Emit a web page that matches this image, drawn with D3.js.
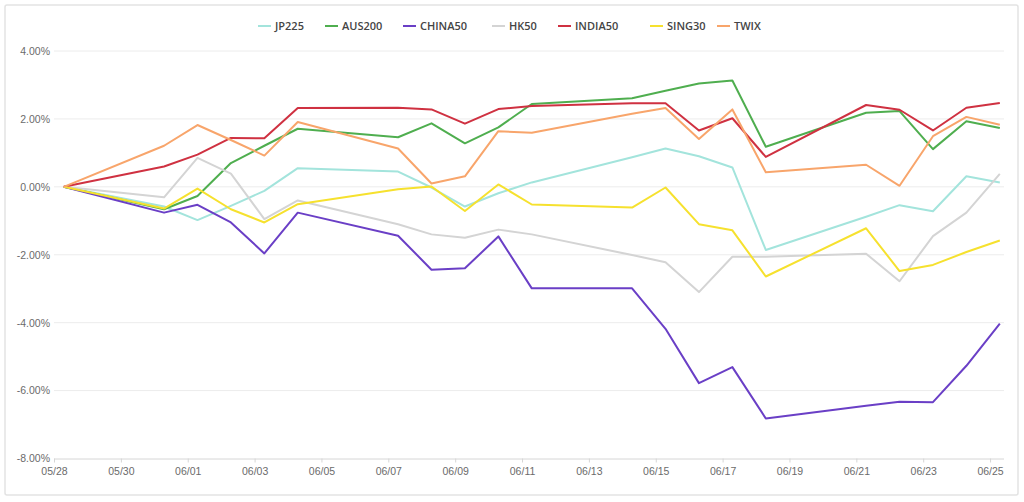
<!DOCTYPE html>
<html>
<head>
<meta charset="utf-8">
<script src="https://cdn.jsdelivr.net/npm/d3@7"></script>
<style>
  body { margin: 0; background: #fff; font-family: "Open Sans", "DejaVu Sans", sans-serif; }
  .frame { fill: none; stroke: #e3e3e3; stroke-width: 1.5; }
  .grid line { stroke: #ececec; }
  .axis text { fill: #6b6b6b; font-size: 10.5px; }
  .legend text { fill: #444; font-size: 11px; font-weight: 600; }
</style>
</head>
<body>
<div id="chart"></div>
<script>
// trading days shown on the chart
const dates = ["05/28","05/31","06/01","06/02","06/03","06/04","06/07","06/08","06/09","06/10",
               "06/11","06/14","06/15","06/16","06/17","06/18","06/21","06/22","06/23","06/24","06/25"];

// cumulative change in %, one value per date
const jp225  = [0, -0.58, -0.98, -0.56, -0.12, 0.55, 0.45, -0.02, -0.58, -0.19, 0.13, 0.87, 1.13, 0.90, 0.57, -1.86, -0.88, -0.54, -0.72, 0.31, 0.13];
const aus200 = [0, -0.66, -0.27, 0.70, 1.21, 1.71, 1.46, 1.87, 1.28, 1.75, 2.44, 2.61, 2.83, 3.04, 3.13, 1.18, 2.18, 2.23, 1.11, 1.93, 1.73];
const china50= [0, -0.76, -0.53, -1.05, -1.96, -0.76, -1.44, -2.44, -2.40, -1.46, -2.99, -2.99, -4.18, -5.78, -5.31, -6.82, -6.45, -6.33, -6.34, -5.27, -4.03];
const hk50   = [0, -0.31, 0.85, 0.39, -0.95, -0.40, -1.10, -1.40, -1.50, -1.26, -1.40, -2.01, -2.22, -3.10, -2.06, -2.06, -1.97, -2.78, -1.45, -0.76, 0.38];
const india50= [0, 0.60, 0.95, 1.44, 1.43, 2.32, 2.33, 2.28, 1.86, 2.29, 2.38, 2.46, 2.46, 1.66, 2.02, 0.88, 2.41, 2.27, 1.66, 2.33, 2.47];
const sing30 = [0, -0.64, -0.05, -0.66, -1.05, -0.51, -0.07, 0.01, -0.71, 0.07, -0.52, -0.61, -0.02, -1.10, -1.28, -2.64, -1.22, -2.48, -2.30, -1.92, -1.58];
const twix   = [0, 1.21, 1.82, 1.38, 0.92, 1.91, 1.13, 0.10, 0.31, 1.64, 1.59, 2.15, 2.32, 1.41, 2.28, 0.43, 0.65, 0.03, 1.49, 2.06, 1.83];

const seriesNames  = ["JP225", "AUS200", "CHINA50", "HK50", "INDIA50", "SING30", "TWIX"];
const seriesValues = [jp225, aus200, china50, hk50, india50, sing30, twix];
const seriesColors = ["#a3e4dc", "#4fae4f", "#6a3fc6", "#d4d4d4", "#cf3141", "#f6e12e", "#f8a56b"];

const xTickLabels = ["05/28","05/30","06/01","06/03","06/05","06/07","06/09","06/11","06/13","06/15","06/17","06/19","06/21","06/23","06/25"];
const yTickValues = [4, 2, 0, -2, -4, -6, -8];

const W = 1024, H = 502;
const plotLeft = 54, plotRight = 1004, plotTop = 51, plotBottom = 458.5;

const parseDay = d3.timeParse("%Y/%m/%d");
const toDate = s => parseDay("2021/" + s);
// points sit a few hours into their day on the time axis
const pointTime = s => d3.timeHour.offset(toDate(s), 7);

const svg = d3.select("#chart").append("svg")
  .attr("width", W)
  .attr("height", H);

svg.append("rect")
  .attr("class", "frame")
  .attr("x", 5).attr("y", 5)
  .attr("width", 1013).attr("height", 490)
  .attr("rx", 2);

const x = d3.scaleTime()
  .domain([toDate("05/28"), d3.timeHour.offset(toDate("06/25"), 10)])
  .range([plotLeft, plotRight]);

const y = d3.scaleLinear()
  .domain([-8, 4])
  .range([plotBottom, plotTop]);

// horizontal grid + y labels
svg.append("g")
  .attr("class", "grid")
  .selectAll("line")
  .data(yTickValues.filter(v => v !== -8))
  .join("line")
    .attr("x1", plotLeft).attr("x2", plotRight)
    .attr("y1", d => y(d)).attr("y2", d => y(d));

svg.append("g")
  .attr("class", "axis")
  .attr("transform", `translate(${plotLeft},0)`)
  .call(d3.axisLeft(y).tickValues(yTickValues).tickFormat(d => d.toFixed(2) + "%").tickSize(0).tickPadding(4))
  .call(g => g.select(".domain").remove())
  .selectAll("text").attr("dy", "0.32em");

// x axis
svg.append("g")
  .attr("class", "axis")
  .attr("transform", `translate(0,${plotBottom})`)
  .call(d3.axisBottom(x).tickValues(xTickLabels.map(toDate)).tickFormat(d3.timeFormat("%m/%d")).tickSize(4).tickPadding(5))
  .call(g => g.select(".domain").attr("stroke", "#d6d6d6").attr("d", `M${plotLeft},0.5H${plotRight}`))
  .call(g => g.selectAll(".tick line").attr("stroke", "#d6d6d6"));

// lines
const line = d3.line()
  .x((d, i) => x(pointTime(dates[i])))
  .y(d => y(d));

svg.append("g")
  .selectAll("path")
  .data(seriesValues)
  .join("path")
    .attr("fill", "none")
    .attr("stroke", (d, i) => seriesColors[i])
    .attr("stroke-width", 2)
    .attr("stroke-linejoin", "round")
    .attr("d", line);

// legend
const legendX = [258, 325, 403, 492, 558, 650, 717];
const lg = svg.append("g").attr("class", "legend")
  .selectAll("g")
  .data(seriesNames)
  .join("g")
    .attr("transform", (d, i) => `translate(${legendX[i]},26)`);

lg.append("line")
  .attr("x1", 0).attr("x2", 13)
  .attr("stroke", (d, i) => seriesColors[i])
  .attr("stroke-width", 2);

lg.append("text")
  .attr("x", 17)
  .attr("dy", "0.35em")
  .text(d => d);
</script>
</body>
</html>
